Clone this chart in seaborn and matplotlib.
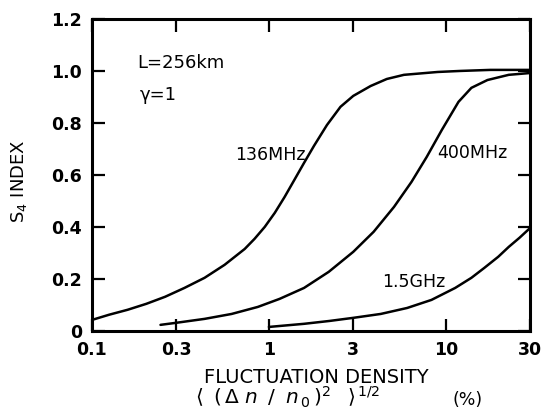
import numpy as np
import pandas as pd
import seaborn as sns
from matplotlib import pyplot as plt

# values (x = fluctuation density in %, y = S4 index)
x_136 = [0.1, 0.125, 0.159, 0.203, 0.259, 0.333, 0.433, 0.562, 0.73, 0.83, 0.948,
         1.08, 1.227, 1.394, 1.58, 1.80, 2.13, 2.54, 3.0, 3.76, 4.64, 5.8, 9.0,
         12.1, 17.9, 30]
s4_136 = [0.042, 0.062, 0.081, 0.104, 0.131, 0.165, 0.204, 0.254, 0.315, 0.354, 0.4,
          0.454, 0.515, 0.581, 0.646, 0.712, 0.792, 0.862, 0.904, 0.942, 0.969, 0.985, 0.996,
          1.0, 1.004, 1.004]

x_400 = [0.244, 0.3, 0.433, 0.616, 0.866, 1.15, 1.58, 2.18, 3.0, 3.91, 5.1, 6.4,
         7.8, 9.5, 11.8, 13.96, 17.2, 22.7, 30]
s4_400 = [0.023, 0.031, 0.046, 0.065, 0.092, 0.123, 0.165, 0.227, 0.304, 0.381, 0.477, 0.573,
          0.669, 0.773, 0.881, 0.935, 0.965, 0.985, 0.992]

x_1500 = [1.0, 1.58, 2.2, 3.0, 4.29, 6.05, 8.3, 11.3, 13.96, 16.5, 19.8, 22.7, 26.1, 30]
s4_1500 = [0.015, 0.027, 0.038, 0.05, 0.065, 0.088, 0.119, 0.165, 0.204, 0.242, 0.285,
           0.323, 0.358, 0.396]

x_ticks = [0.1, 0.3, 1, 3, 10, 30]
x_ticklabels = ["0.1", "0.3", "1", "3", "10", "30"]
y_ticks = [0, 0.2, 0.4, 0.6, 0.8, 1.0, 1.2]
y_ticklabels = ["0", "0.2", "0.4", "0.6", "0.8", "1.0", "1.2"]

df = pd.concat([
    pd.DataFrame({"x": x_136, "s4": s4_136, "freq": "136MHz"}),
    pd.DataFrame({"x": x_400, "s4": s4_400, "freq": "400MHz"}),
    pd.DataFrame({"x": x_1500, "s4": s4_1500, "freq": "1.5GHz"}),
], ignore_index=True)

sns.set_style("ticks")
plt.rcParams['font.family'] = ['DejaVu Sans']
plt.rcParams['text.color'] = 'black'

fig = plt.figure(figsize=(5.41, 4.12), dpi=100)
ax = fig.add_axes([0.170, 0.197, 0.810, 0.757])

sns.lineplot(data=df, x="x", y="s4", units="freq", estimator=None,
             color="black", linewidth=1.8, sort=False, ax=ax)
for ln in ax.get_lines():
    ln.set_solid_joinstyle("round")
    ln.set_solid_capstyle("round")

ax.set_xscale("log")
ax.set_xlim(0.1, 30)
ax.set_ylim(0, 1.2)
ax.set_xticks(x_ticks)
ax.set_xticklabels(x_ticklabels)
ax.minorticks_off()
ax.set_yticks(y_ticks)
ax.set_yticklabels(y_ticklabels)
ax.tick_params(direction="in", length=9, width=1.6, top=True, right=True,
               labelsize=12.5, pad=7, colors="black")
for lab in ax.get_xticklabels() + ax.get_yticklabels():
    lab.set_fontweight("bold")
for sp in ax.spines.values():
    sp.set_linewidth(2.2)
    sp.set_color("black")
ax.set_xlabel("")
ax.set_ylabel("")

# axis titles
fig.text(0.035, 0.56, r"S$_4$ INDEX", rotation=90, ha="center", va="center",
         fontsize=13)
fig.text(0.584, 0.070, "FLUCTUATION DENSITY", ha="center", va="baseline",
         fontsize=14)
fig.text(0.360, 0.018,
         r"$\langle\;\;(\,\Delta\;n\;\;/\;\;n_{\,0}\,)^{2}\;\;\;\rangle^{\,1/2}$",
         ha="left", va="baseline", fontsize=14.5)
fig.text(0.836, 0.018, "(%)", ha="left", va="baseline", fontsize=12.5)

# annotations
ax.text(0.18, 1.01, "L=256km", fontsize=13, va="baseline")
ax.text(0.186, 0.888, "\u03b3=1", fontsize=13, va="baseline")
ax.text(1.62, 0.658, "136MHz", fontsize=12.5, ha="right", va="baseline")
ax.text(8.9, 0.665, "400MHz", fontsize=12.5, va="baseline")
ax.text(4.35, 0.17, "1.5GHz", fontsize=12.5, va="baseline")

fig.savefig("out.png", dpi=100)
